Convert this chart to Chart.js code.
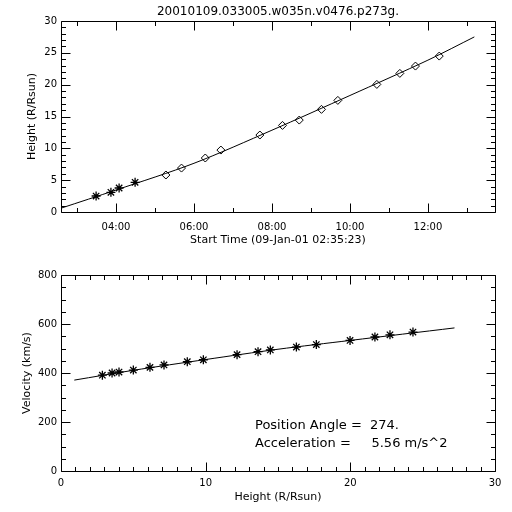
<!DOCTYPE html>
<html><head><meta charset="utf-8">
<script src="https://cdn.jsdelivr.net/npm/chart.js@4/dist/chart.umd.min.js"></script>
<style>
html,body{margin:0;padding:0;background:#fff;}
#wrap{position:relative;width:512px;height:512px;overflow:hidden;background:#fff;}
.box{position:absolute;left:0;width:512px;height:256px;}
.note{position:absolute;left:255px;font:13px 'DejaVu Sans';line-height:16px;white-space:pre;color:#000;}
</style></head>
<body>
<div id="wrap">
  <div class="box" style="top:0"><canvas id="c1" width="512" height="256"></canvas></div>
  <div class="box" style="top:256px"><canvas id="c2" width="512" height="256"></canvas></div>
  <div class="note" style="top:417px">Position Angle =  274.</div>
  <div class="note" style="top:435px">Acceleration =     5.56 m/s^2</div>
</div>
<script>
// ---------- data ----------
const titleText = "20010109.033005.w035n.v0476.p273g.";
const startTimeLabel = "Start Time (09-Jan-01 02:35:23)";
// observation times (decimal hours, 09-Jan-01) and heights (R/Rsun)
const starTimes   = [3.49, 3.87, 4.08, 4.49];
const starHeights = [2.51, 3.09, 3.77, 4.66];
const diamondTimes   = [5.28, 5.68, 6.29, 6.69, 7.69, 8.27, 8.70, 9.27, 9.69, 10.69, 11.28, 11.68, 12.29];
const diamondHeights = [5.81, 6.90, 8.48, 9.73, 12.09, 13.60, 14.44, 16.12, 17.53, 20.04, 21.77, 22.92, 24.49];
// fitted height-time curve
const fitTimes   = [2.59, 4.0, 6.0, 8.0, 10.0, 12.0, 13.19];
const fitHeights = [0.60, 3.45, 7.65, 12.85, 18.30, 23.85, 27.50];
// velocity vs height
const velHeights = [2.86, 3.53, 4.01, 5.00, 6.15, 7.12, 8.73, 9.84, 12.17, 13.62, 14.47, 16.27, 17.65, 19.98, 21.70, 22.74, 24.33];
const velValues  = [391, 400, 404, 412, 423, 433, 446, 454, 475, 487, 494, 506, 516, 533, 547, 556, 567];
const velFitHeights = [0.92, 5, 10, 15, 20, 27.2];
const velFitValues  = [371, 411, 455, 497, 533, 584];
// axis ranges / ticks
const timeMin = 2 + 35/60 + 23/3600, timeMax = 13.72;
const timeTickHours = [3,4,5,6,7,8,9,10,11,12,13];
const timeMajorHours = [4,6,8,10,12];
const heightMin = 0, heightMax = 30;
const velMin = 0, velMax = 800;

// ---------- helpers ----------
Chart.defaults.font.family = "'DejaVu Sans'";
Chart.defaults.color = '#000';
const pts = (xs, ys) => xs.map((v, i) => ({x: v, y: ys[i]}));
const range = (a, b, s) => { const r = []; for (let v = a; v <= b + 1e-9; v += s) r.push(v); return r; };
const pad2 = n => String(n).padStart(2, '0');

function makeFrameTicks(xMajor, yMajor) {
  return {
    id: 'frameTicks',
    afterDraw(chart) {
      const {ctx, chartArea: a, scales: {x, y}} = chart;
      ctx.save();
      ctx.strokeStyle = '#000'; ctx.lineWidth = 1;
      const L = Math.round(a.left) + 0.5, R = Math.round(a.right) + 0.5;
      const T = Math.round(a.top) + 0.5, B = Math.round(a.bottom) + 0.5;
      ctx.beginPath();
      ctx.rect(L, T, R - L, B - T);
      x.ticks.forEach(t => {
        const p = Math.round(x.getPixelForValue(t.value)) + 0.5;
        const len = xMajor(t.value) ? 9 : 4.5;
        ctx.moveTo(p, B); ctx.lineTo(p, B - len);
        ctx.moveTo(p, T); ctx.lineTo(p, T + len);
      });
      y.ticks.forEach(t => {
        const p = Math.round(y.getPixelForValue(t.value)) + 0.5;
        const len = yMajor(t.value) ? 9 : 4.5;
        ctx.moveTo(L, p); ctx.lineTo(L + len, p);
        ctx.moveTo(R, p); ctx.lineTo(R - len, p);
      });
      ctx.stroke();
      ctx.restore();
    }
  };
}

const common = { responsive: false, animation: false, devicePixelRatio: 1 };

// ---------- top chart ----------
const isTimeMajor = v => timeMajorHours.includes(v);
const isHMajor = v => v % 5 === 0;
new Chart(document.getElementById('c1'), {
  type: 'scatter',
  data: { datasets: [
    { type: 'line', data: pts(fitTimes, fitHeights), borderColor: '#000', borderWidth: 1, pointRadius: 0, fill: false, tension: 0.3 },
    { data: pts(starTimes, starHeights), pointStyle: 'star', pointRadius: 4.5, borderColor: '#000', borderWidth: 1.3, backgroundColor: 'rgba(0,0,0,0)' },
    { data: pts(diamondTimes, diamondHeights), pointStyle: 'rectRot', pointRadius: 4, borderColor: '#000', borderWidth: 1, backgroundColor: 'rgba(0,0,0,0)' }
  ]},
  options: { ...common,
    layout: { padding: { left: 0, right: 17, top: 0, bottom: 0 } },
    plugins: {
      legend: { display: false }, tooltip: { enabled: false },
      title: { display: true, fullSize: false, text: titleText, color: '#000', font: { size: 12, weight: 'normal' }, padding: { top: 5, bottom: 1.6 } }
    },
    scales: {
      x: { type: 'linear', min: timeMin, max: timeMax,
        afterBuildTicks: s => { s.ticks = timeTickHours.map(v => ({value: v})); },
        afterFit: s => { s.height = 44; },
        grid: { display: false, drawTicks: false }, border: { display: false },
        ticks: { autoSkip: false, maxRotation: 0, padding: 9, font: { size: 10 },
          callback: v => isTimeMajor(v) ? pad2(v) + ':00' : '' },
        title: { display: true, text: startTimeLabel, font: { size: 11 }, padding: { top: 0, bottom: 9.4 } }
      },
      y: { type: 'linear', min: heightMin, max: heightMax,
        afterBuildTicks: s => { s.ticks = range(0, 30, 1).map(v => ({value: v})); },
        afterFit: s => { s.width = 61; },
        grid: { display: false, drawTicks: false }, border: { display: false },
        ticks: { autoSkip: false, padding: 4, font: { size: 10 }, callback: v => isHMajor(v) ? String(v) : '' },
        title: { display: true, text: 'Height (R/Rsun)', font: { size: 11 }, padding: { top: 26, bottom: 0 } }
      }
    }
  },
  plugins: [makeFrameTicks(isTimeMajor, isHMajor)]
});

// ---------- bottom chart ----------
const isXMajor = v => v % 10 === 0;
const isVMajor = v => v % 200 === 0;
new Chart(document.getElementById('c2'), {
  type: 'scatter',
  data: { datasets: [
    { type: 'line', data: pts(velFitHeights, velFitValues), borderColor: '#000', borderWidth: 1, pointRadius: 0, fill: false, tension: 0.3 },
    { data: pts(velHeights, velValues), pointStyle: 'star', pointRadius: 4.5, borderColor: '#000', borderWidth: 1.3, backgroundColor: 'rgba(0,0,0,0)' }
  ]},
  options: { ...common,
    layout: { padding: { left: 0, right: 17, top: 19, bottom: 0 } },
    plugins: { legend: { display: false }, tooltip: { enabled: false } },
    scales: {
      x: { type: 'linear', min: heightMin, max: heightMax,
        afterBuildTicks: s => { s.ticks = range(0, 30, 1).map(v => ({value: v})); },
        afterFit: s => { s.height = 41; },
        grid: { display: false, drawTicks: false }, border: { display: false },
        ticks: { autoSkip: false, maxRotation: 0, padding: 6, font: { size: 10 }, callback: v => isXMajor(v) ? String(v) : '' },
        title: { display: true, text: 'Height (R/Rsun)', font: { size: 11 }, padding: { top: 0, bottom: 8.7 } }
      },
      y: { type: 'linear', min: velMin, max: velMax,
        afterBuildTicks: s => { s.ticks = range(0, 800, 50).map(v => ({value: v})); },
        afterFit: s => { s.width = 61; },
        grid: { display: false, drawTicks: false }, border: { display: false },
        ticks: { autoSkip: false, padding: 4, font: { size: 10 }, callback: v => isVMajor(v) ? String(v) : '' },
        title: { display: true, text: 'Velocity (km/s)', font: { size: 11 }, padding: { top: 21, bottom: 0 } }
      }
    }
  },
  plugins: [makeFrameTicks(isXMajor, isVMajor)]
});
</script>
</body></html>
